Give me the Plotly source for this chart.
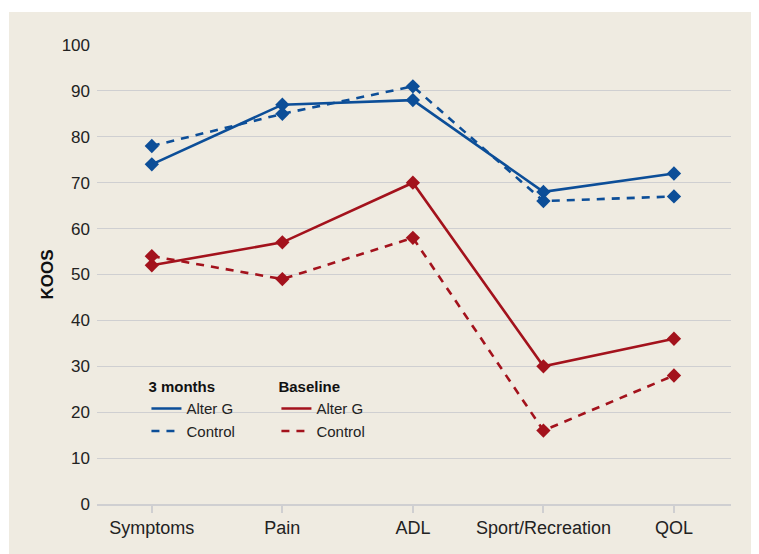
import plotly.graph_objects as go

categories = ["Symptoms", "Pain", "ADL", "Sport/Recreation", "QOL"]
m3_alterg = [74, 87, 88, 68, 72]
m3_control = [78, 85, 91, 66, 67]
base_alterg = [52, 57, 70, 30, 36]
base_control = [54, 49, 58, 16, 28]
y_ticks = [0, 10, 20, 30, 40, 50, 60, 70, 80, 90, 100]

BLUE = "#0C4E98"
RED = "#A3121C"
BG = "#EFEBE1"
GRID = "#CFCFD1"
FONT = "Liberation Sans, Arial, sans-serif"

x_idx = list(range(len(categories)))

DASH = "8px,7px"
series = [
    (m3_alterg, BLUE, "solid", "Alter G", "legend"),
    (m3_control, BLUE, DASH, "Control", "legend"),
    (base_alterg, RED, "solid", "Alter G", "legend2"),
    (base_control, RED, DASH, "Control", "legend2"),
]

fig = go.Figure()
for vals, color, dash, name, leg in series:
    fig.add_trace(go.Scatter(
        x=x_idx, y=vals, mode="lines",
        line=dict(color=color, width=2.6, dash=dash),
        name=name, legend=leg, showlegend=True, hoverinfo="skip",
    ))
for vals, color, dash, name, leg in series:
    fig.add_trace(go.Scatter(
        x=x_idx, y=vals, mode="markers",
        marker=dict(symbol="diamond", size=11, color=color),
        showlegend=False, name=name,
    ))

fig.update_layout(
    width=767, height=554,
    margin=dict(l=89, r=44, t=37, b=58),
    paper_bgcolor=BG,
    plot_bgcolor="rgba(0,0,0,0)",
    font=dict(family=FONT, color="#222222", size=16),
    shapes=[
        dict(type="rect", xref="paper", yref="paper",
             x0=-0.2, x1=1.2, y0=1.0719, y1=1.3,
             fillcolor="white", line=dict(width=0), layer="below"),
        dict(type="rect", xref="paper", yref="paper",
             x0=-0.2, x1=-0.1388, y0=-0.3, y1=1.3,
             fillcolor="white", line=dict(width=0), layer="below"),
    ],
    xaxis=dict(
        range=[-0.42, 4.437],
        tickmode="array", tickvals=x_idx, ticktext=categories,
        showgrid=False, zeroline=False,
        showline=True, linecolor=GRID, linewidth=1.5,
        ticks="outside", ticklen=7, tickcolor=GRID, tickwidth=1.5,
        tickfont=dict(size=18, family=FONT, color="#222222"),
    ),
    yaxis=dict(
        range=[0, 100],
        tickmode="array", tickvals=y_ticks,
        showgrid=True, gridcolor=GRID, gridwidth=1,
        zeroline=False, ticks="", ticklabelstandoff=6,
        tickfont=dict(size=17, family=FONT, color="#222222"),
        title=dict(text="<b>KOOS</b>", font=dict(size=17, family=FONT, color="#111111"),
                   standoff=3),
    ),
    legend=dict(
        x=0.078, y=0.286, xanchor="left", yanchor="top",
        bgcolor="rgba(0,0,0,0)",
        title=dict(text="<b>3 months</b>", font=dict(size=15, family=FONT, color="#111111")),
        font=dict(size=15, family=FONT, color="#222222"),
        tracegroupgap=0, itemwidth=30,
    ),
    legend2=dict(
        x=0.283, y=0.286, xanchor="left", yanchor="top",
        bgcolor="rgba(0,0,0,0)",
        title=dict(text="<b>Baseline</b>", font=dict(size=15, family=FONT, color="#111111")),
        font=dict(size=15, family=FONT, color="#222222"),
        tracegroupgap=0, itemwidth=30,
    ),
)

fig.write_html("out.html")
